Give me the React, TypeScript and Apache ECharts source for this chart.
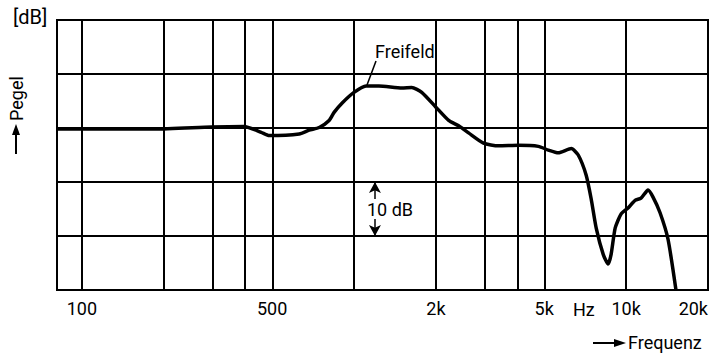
import React, { useEffect, useRef } from "react";
import * as echarts from "echarts";

// Frequency response curve ("Freifeld")
const freqHz = [81, 185, 299, 395, 456, 488, 629, 684, 745, 810, 845, 903, 1000, 1107, 1235, 1500, 1630, 1774, 1996, 2228, 2425, 2637, 2992, 3397, 4022, 4760, 5180, 5635, 6290, 6670, 7130, 7440, 7770, 8240, 8590, 8810, 9120, 9590, 10170, 10790, 11350, 12040, 12560, 13330, 14260, 15250];
const levelDb = [29.8, 29.8, 30.2, 30.3, 29.2, 28.6, 28.9, 29.6, 30.1, 31.4, 32.9, 34.6, 36.6, 37.8, 37.8, 37.4, 37.5, 36.6, 33.9, 31.4, 30.4, 29.1, 27.2, 26.7, 26.8, 26.6, 25.9, 25.4, 26.2, 25.0, 21.3, 16.9, 11.4, 6.6, 4.8, 6.6, 11.5, 14.1, 15.2, 16.6, 17.0, 18.5, 17.2, 14.3, 9.4, 0];

// Vertical grid lines (Hz)
const gridFreqs = [100, 200, 300, 400, 500, 1000, 2000, 3000, 4000, 5000, 10000];
// Tick labels
const tickFreqs = [100, 500, 2000, 5000, 10000, 20000];
const tickLabels = ["100", "500", "2k", "5k", "10k", "20k"];

const freqMin = 81;
const freqMax = 20000;
const dbMin = 0;
const dbMax = 50;
const dbStep = 10;

// "10 dB" scale marker
const scaleMarkFreq = 1194;
const scaleMarkFrom = 20;
const scaleMarkTo = 10;

const FONT = "Roboto, 'Liberation Sans', sans-serif";

export default function App() {
  const ref = useRef<HTMLDivElement>(null);
  useEffect(() => {
    if (!ref.current) return;
    const chart = echarts.init(ref.current, undefined, { renderer: "svg" });
    const lg = (f: number) => Math.log10(f);
    const option: any = {
      animation: false,
      backgroundColor: "#fff",
      textStyle: { fontFamily: FONT, color: "#000" },
      grid: {
        left: 57,
        right: 8,
        top: 20,
        bottom: 66,
        outerBoundsMode: "none",
        containLabel: false,
        show: true,
        borderColor: "#000",
        borderWidth: 2,
        backgroundColor: "transparent",
      },
      xAxis: {
        type: "value",
        min: lg(freqMin),
        max: lg(freqMax),
        splitLine: { show: false },
        axisTick: { show: false },
        axisLine: { show: true, lineStyle: { color: "#000", width: 2 } },
        axisLabel: {
          customValues: tickFreqs.map(lg),
          alignMaxLabel: "right",
          fontFamily: FONT,
          fontSize: 18,
          color: "#000",
          margin: 9,
          formatter: (v: number) => {
            const f = Math.pow(10, v);
            let best = 0;
            tickFreqs.forEach((t, i) => {
              if (Math.abs(t - f) < Math.abs(tickFreqs[best] - f)) best = i;
            });
            return tickLabels[best];
          },
        },
      },
      yAxis: {
        type: "value",
        min: dbMin,
        max: dbMax,
        interval: dbStep,
        axisLabel: { show: false },
        axisTick: { show: false },
        axisLine: { show: true, lineStyle: { color: "#000", width: 2 } },
        splitLine: { show: true, lineStyle: { color: "#000", width: 2 } },
      },
      series: [
        {
          type: "line",
          data: freqHz.map((f, i) => [lg(f), levelDb[i]]),
          showSymbol: false,
          smooth: 0.2,
          lineStyle: { color: "#000", width: 3.5 },
          z: 5,
          markLine: {
            silent: true,
            symbol: ["none", "none"],
            label: { show: false },
            lineStyle: { color: "#000", width: 2, type: "solid" },
            data: gridFreqs.map((f) => ({ xAxis: lg(f) })),
            z: 1,
          },
        },
        {
          type: "line",
          data: [],
          markLine: {
            silent: true,
            symbol: ["arrow", "arrow"],
            symbolSize: [9, 11],
            label: { show: false },
            lineStyle: { color: "#000", width: 1.5, type: "solid" },
            data: [
              [
                { coord: [lg(scaleMarkFreq), scaleMarkFrom] },
                { coord: [lg(scaleMarkFreq), scaleMarkTo] },
              ],
            ],
          },
        },
      ],
      graphic: [
        {
          type: "text",
          left: 13,
          top: 7,
          style: { text: "[dB]", font: `20px ${FONT}`, fill: "#000" },
        },
        {
          type: "text",
          x: 7,
          y: 121,
          rotation: Math.PI / 2,
          style: { text: "Pegel", font: `18px ${FONT}`, fill: "#000", textAlign: "left", textVerticalAlign: "top" },
        },
        {
          type: "line",
          shape: { x1: 16, y1: 154, x2: 16, y2: 132 },
          style: { stroke: "#000", lineWidth: 2 },
        },
        {
          type: "polygon",
          shape: { points: [[16, 124], [12, 135], [20, 135]] },
          style: { fill: "#000" },
        },
        {
          type: "text",
          x: 367,
          y: 209,
          style: {
            text: "10 dB",
            font: `18px ${FONT}`,
            fill: "#000",
            textVerticalAlign: "middle",
            backgroundColor: "#fff",
            padding: [1, 0],
          },
          z: 10,
        },
        {
          type: "text",
          x: 375,
          y: 42,
          style: { text: "Freifeld", font: `18px ${FONT}`, fill: "#000" },
        },
        {
          type: "line",
          shape: { x1: 376, y1: 61, x2: 367, y2: 85 },
          style: { stroke: "#000", lineWidth: 1.5 },
        },
        {
          type: "text",
          x: 573,
          y: 300,
          style: { text: "Hz", font: `18px ${FONT}`, fill: "#000" },
        },
        {
          type: "line",
          shape: { x1: 593, y1: 343, x2: 616, y2: 343 },
          style: { stroke: "#000", lineWidth: 2 },
        },
        {
          type: "polygon",
          shape: { points: [[626, 343], [614, 339], [614, 347]] },
          style: { fill: "#000" },
        },
        {
          type: "text",
          x: 628,
          y: 333,
          style: { text: "Frequenz", font: `18px ${FONT}`, fill: "#000" },
        },
      ],
    };
    chart.setOption(option);
    return () => chart.dispose();
  }, []);
  return (
    <div
      ref={ref}
      style={{ position: "absolute", left: 0, top: 0, width: 716, height: 356, background: "#fff" }}
    />
  );
}
